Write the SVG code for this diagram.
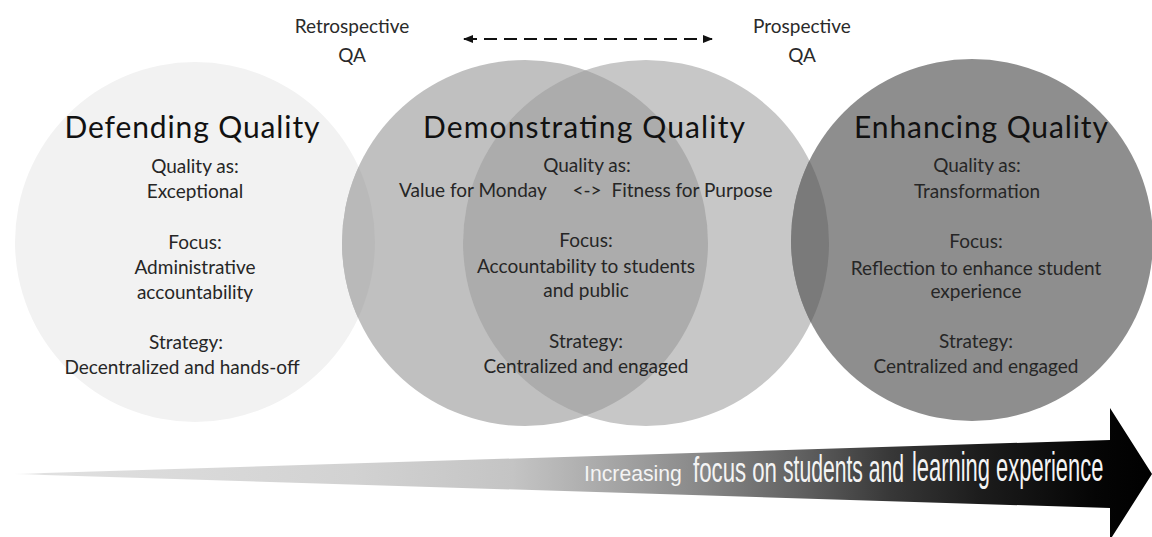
<svg xmlns="http://www.w3.org/2000/svg" width="1152" height="537" viewBox="0 0 1152 537">
<defs>
<style>
.title{font-family:Lato,"Liberation Sans",sans-serif;font-size:30px;fill:#111;text-anchor:middle}
.body{font-family:Lato,"Liberation Sans",sans-serif;font-size:19px;fill:#262626;text-anchor:middle}
.top{font-family:Lato,"Liberation Sans",sans-serif;font-size:19px;fill:#2a2a2a;text-anchor:middle}
.atxt{font-family:"Liberation Sans",Arial,sans-serif;fill:#f4f4f4}
.conn{stroke:#111;stroke-width:2;stroke-dasharray:13 7;fill:none}
</style>
<linearGradient id="shaft" gradientUnits="userSpaceOnUse" x1="10" y1="0" x2="1152" y2="0">
<stop offset="0" stop-color="#ffffff"/>
<stop offset="0.03" stop-color="#e0e0e0"/>
<stop offset="0.3" stop-color="#d2d2d2"/>
<stop offset="0.44" stop-color="#c4c4c4"/>
<stop offset="0.5" stop-color="#b0b0b0"/>
<stop offset="0.6" stop-color="#8a8a8a"/>
<stop offset="0.69" stop-color="#626262"/>
<stop offset="0.77" stop-color="#383838"/>
<stop offset="0.85" stop-color="#1c1c1c"/>
<stop offset="0.95" stop-color="#050505"/>
<stop offset="1" stop-color="#000000"/>
</linearGradient>
<clipPath id="clipDef"><circle cx="195" cy="242" r="180"/></clipPath>
<clipPath id="clipDemoL"><circle cx="525" cy="243" r="183"/></clipPath>
<clipPath id="clipEnh"><circle cx="972" cy="240" r="181"/></clipPath>
<marker id="ah" viewBox="0 0 10 10" refX="9" refY="5" markerWidth="10" markerHeight="10" orient="auto-start-reverse" markerUnits="userSpaceOnUse">
<path d="M0,1 L10,5 L0,9 Z" fill="#111"/>
</marker>
</defs>
<rect width="1152" height="537" fill="#ffffff"/>

<g id="defending">
<circle cx="195" cy="242" r="180" fill="#f2f2f2"/>
</g>

<g id="demonstrating">
<circle cx="525" cy="243" r="183" fill="#c0c0c0"/>
<circle cx="525" cy="243" r="183" fill="#b9b9b9" clip-path="url(#clipDef)"/>
<circle cx="646" cy="243" r="183" fill="#c7c7c7"/>
<circle cx="646" cy="243" r="183" fill="#acacac" clip-path="url(#clipDemoL)"/>
</g>

<g id="enhancing">
<circle cx="972" cy="240" r="181" fill="#8e8e8e"/>
<circle cx="646" cy="243" r="183" fill="#7a7a7a" clip-path="url(#clipEnh)"/>
</g>

<g id="defending-text">
<text class="title" x="192" y="138" textLength="255" lengthAdjust="spacing">Defending Quality</text>
<text class="body" x="195" y="173">Quality as:</text>
<text class="body" x="195" y="198">Exceptional</text>
<text class="body" x="195" y="249">Focus:</text>
<text class="body" x="195" y="274">Administrative</text>
<text class="body" x="195" y="299">accountability</text>
<text class="body" x="186" y="349">Strategy:</text>
<text class="body" x="182" y="374">Decentralized and hands-off</text>
</g>

<g id="demonstrating-text">
<text class="title" x="584" y="138" textLength="322" lengthAdjust="spacing">Demonstrating Quality</text>
<text class="body" x="587" y="172">Quality as:</text>
<text class="body" x="473" y="197">Value for Monday</text>
<text class="body" x="587" y="197">&lt;-&gt;</text>
<text class="body" x="692" y="197">Fitness for Purpose</text>
<text class="body" x="586" y="247">Focus:</text>
<text class="body" x="586" y="273">Accountability to students</text>
<text class="body" x="586" y="297">and public</text>
<text class="body" x="586" y="348">Strategy:</text>
<text class="body" x="586" y="373">Centralized and engaged</text>
</g>

<g id="enhancing-text">
<text class="title" x="981" y="138" textLength="254" lengthAdjust="spacing">Enhancing Quality</text>
<text class="body" x="977" y="172">Quality as:</text>
<text class="body" x="977" y="198">Transformation</text>
<text class="body" x="976" y="248">Focus:</text>
<text class="body" x="976" y="275">Reflection to enhance student</text>
<text class="body" x="976" y="298">experience</text>
<text class="body" x="976" y="348">Strategy:</text>
<text class="body" x="976" y="373">Centralized and engaged</text>
</g>

<g id="retrospective">
<text class="top" x="352" y="33">Retrospective</text>
<text class="top" x="352" y="62">QA</text>
</g>

<g id="prospective">
<text class="top" x="802" y="33">Prospective</text>
<text class="top" x="802" y="62">QA</text>
</g>

<g id="connectors">
<line class="conn" x1="464" y1="39" x2="712" y2="39" marker-start="url(#ah)" marker-end="url(#ah)"/>
</g>

<g id="progress-arrow">
<path d="M12,474 L1110,440 L1110,408 L1152,474 L1110,540 L1110,508 Z" fill="url(#shaft)"/>
<text class="atxt" font-size="22" transform="translate(584,481) scale(0.965,1)">Increasing</text>
<text class="atxt" font-size="35" transform="translate(693,482) scale(0.635,1)">focus on</text>
<text class="atxt" font-size="38" transform="translate(783,482) scale(0.556,1)">students and</text>
<text class="atxt" font-size="41" transform="translate(912,481) scale(0.535,1)">learning experience</text>
</g>
</svg>
